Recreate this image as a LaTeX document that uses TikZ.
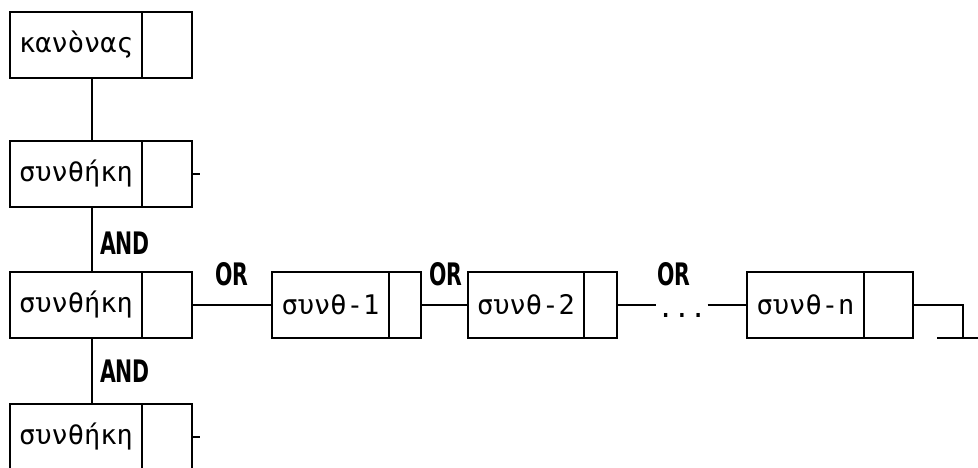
\documentclass[tikz,border=0pt]{standalone}
\usepackage{fontspec}
\usepackage{graphicx}
\usetikzlibrary{positioning}
\setmainfont{DejaVu Sans}
\newfontfamily\cellfont{DejaVu Sans Mono}
\newcommand\narrow[1]{\scalebox{0.66}[1]{#1}}
\tikzset{
  cell/.style={draw, line width=2.6pt, minimum height=66pt, inner sep=0pt, outer sep=0pt,
    anchor=north west, font=\cellfont\fontsize{27}{27}\selectfont},
  link/.style={line width=2.6pt},
  gate/.style={font=\fontsize{31}{31}\selectfont\bfseries, inner sep=0pt},
}
\begin{document}
\begin{tikzpicture}[x=1pt,y=-1pt]
        \useasboundingbox (0,0) rectangle (978,468);

        % Rule and its chain of conditions
        \node[cell, minimum width=132pt] (rule) at (10,12) {κανὸνας};
        \node[cell, minimum width=50pt, right=0pt of rule] (rulep) {};
        \node[cell, minimum width=132pt] (cond1) at (10,141) {συνθήκη};
        \node[cell, minimum width=50pt, right=0pt of cond1] (cond1p) {};
        \node[cell, minimum width=132pt] (cond2) at (10,272) {συνθήκη};
        \node[cell, minimum width=50pt, right=0pt of cond2] (cond2p) {};
        \node[cell, minimum width=132pt] (cond3) at (10,404) {συνθήκη};
        \node[cell, minimum width=50pt, right=0pt of cond3] (cond3p) {};

        \coordinate (spine) at (92,0);
        \draw[link] (rule.south -| spine) -- (cond1.north -| spine);
        \draw[link] (cond1.south -| spine) -- (cond2.north -| spine);
        \draw[link] (cond2.south -| spine) -- (cond3.north -| spine);
        \draw[link] (cond1p.east) -- ++(8,0);
        \draw[link] (cond3p.east) -- ++(8,0);

        \node[gate] (and1) at (125,243) {\narrow{AND}};
        \node[gate] (and2) at (125,371) {\narrow{AND}};

        % Alternatives of the condition
        \node[cell, minimum width=117pt] (alt1) at (272,272) {συνθ-1};
        \node[cell, minimum width=32pt, right=0pt of alt1] (alt1p) {};
        \node[cell, minimum width=116pt] (alt2) at (468,272) {συνθ-2};
        \node[cell, minimum width=33pt, right=0pt of alt2] (alt2p) {};
        \node[cell, minimum width=117pt] (altn) at (747,272) {συνθ-n};
        \node[cell, minimum width=49pt, right=0pt of altn] (altnp) {};

        \draw[link] (cond2p.east) -- (alt1.west);
        \draw[link] (alt1p.east) -- (alt2.west);
        \node[font=\cellfont\fontsize{27}{27}\selectfont, inner xsep=1pt, inner ysep=0pt, anchor=base] (more) at (682,317) {...};
        \draw[link] (alt2p.east) -- (alt2p.east -| more.west);
        \draw[link] (more.east |- altn.west) -- (altn.west);

        \node[gate] (or1) at (232,274) {\narrow{OR}};
        \node[gate] (or2) at (446,274) {\narrow{OR}};
        \node[gate] (or3) at (674,274) {\narrow{OR}};

        % End of the list
        \coordinate (ground) at (963,338);
        \draw[link] (altnp.east) -| (ground);
        \draw[link] ([xshift=-26pt]ground) -- ([xshift=15pt]ground);
\end{tikzpicture}
\end{document}
